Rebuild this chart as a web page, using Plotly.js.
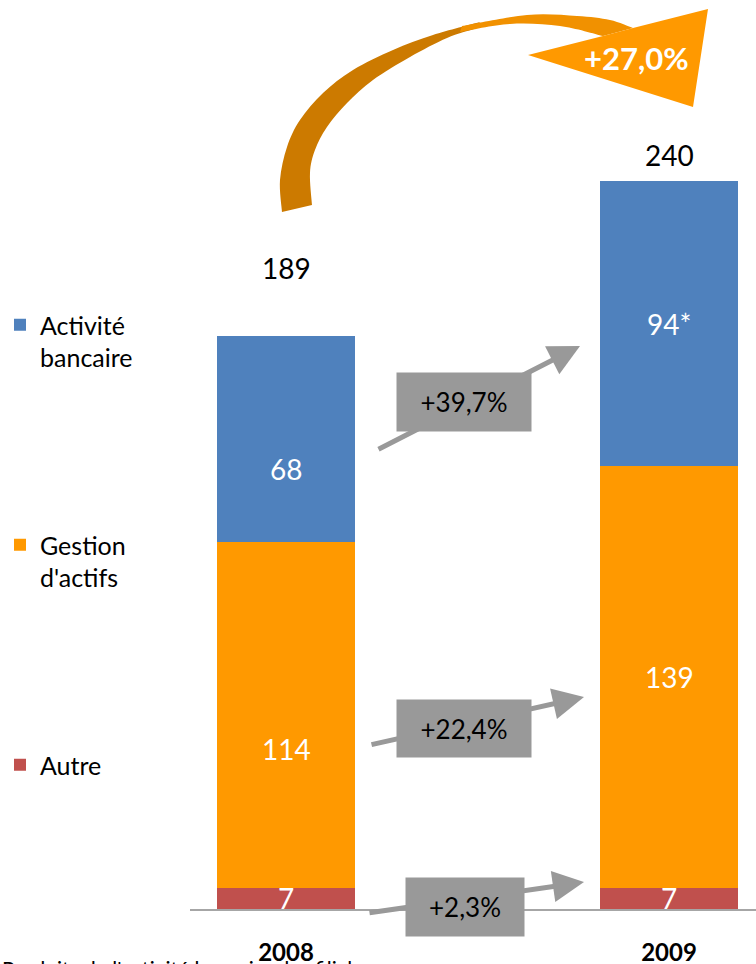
<!DOCTYPE html>
<html>
<head>
<meta charset="utf-8">
<script src="https://cdn.plot.ly/plotly-3.0.1.min.js"></script>
<style>html,body{margin:0;padding:0;background:#fff;}#chart{width:756px;height:964px;}</style>
</head>
<body>
<div id="chart"></div>
<script>
// ---- data ----
const years = ["2008", "2009"];
const autre = [7, 7];
const gestion = [114, 139];
const bancaire = [68, 94];
const bancaireLabels = ["68", "94*"];
const seriesNames = ["Autre", "Gestion<br>d'actifs", "Activité<br>bancaire"];
const growthLabels = ["+2,3%", "+22,4%", "+39,7%"];
const totalGrowth = "+27,0%";
const footnote = "Produits de l'activité bancaire des filiales";

const totals = years.map((_, i) => autre[i] + gestion[i] + bancaire[i]);

// ---- geometry helpers (pixel -> axis / paper) ----
const L = 190, W = 566, B = 909, H = 909;
const xr = [-0.2507, 1.2271];
const yr = [0, 299.8];
const dx = px => xr[0] + (px - L) / W * (xr[1] - xr[0]);
const dy = py => (B - py) / H * (yr[1] - yr[0]);
const fx = px => (px - L) / W;
const fy = py => (B - py) / H;
const P = p => fx(p[0]).toFixed(4) + "," + fy(p[1]).toFixed(4);
function path(pts) {
  return "M" + pts.map(P).join("L") + "Z";
}
// smooth (Catmull-Rom) edge
function smooth(pts) {
  let s = "";
  for (let i = 0; i < pts.length - 1; i++) {
    const p0 = pts[Math.max(i - 1, 0)], p1 = pts[i], p2 = pts[i + 1], p3 = pts[Math.min(i + 2, pts.length - 1)];
    const c1 = [p1[0] + (p2[0] - p0[0]) / 6, p1[1] + (p2[1] - p0[1]) / 6];
    const c2 = [p2[0] - (p3[0] - p1[0]) / 6, p2[1] - (p3[1] - p1[1]) / 6];
    s += "C" + P(c1) + " " + P(c2) + " " + P(p2);
  }
  return s;
}
function band(outer, inner) {
  return "M" + P(outer[0]) + smooth(outer) + "L" + P(inner[0]) + smooth(inner) + "Z";
}

const blue = "#4F81BD", orange = "#FF9900", red = "#C0504D", grey = "#999999";
const FONT = "Lato, 'Open Sans', sans-serif";

const traces = [
  {type: "bar", x: years, y: autre, name: seriesNames[0], marker: {color: red}, legendgroup: "a", legendrank: 3, hoverinfo: "none"},
  {type: "bar", x: years, y: gestion, name: seriesNames[1], marker: {color: orange}, legendgroup: "g", legendrank: 2, hoverinfo: "none"},
  {type: "bar", x: years, y: bancaire, name: seriesNames[2], marker: {color: blue}, legendgroup: "b", legendrank: 1, hoverinfo: "none"}
];

const annotations = [];
const C = {xanchor: "center", yanchor: "middle", showarrow: false};
// segment labels
const nudge = [-30, 0];
years.forEach((yv, i) => {
  annotations.push(Object.assign({x: i, y: autre[i] / 2, xref: "x", yref: "y", text: String(autre[i]),
    font: {family: FONT, size: 28, color: "#fff"}}, C));
  annotations.push(Object.assign({x: i, y: autre[i] + gestion[i] / 2, yshift: nudge[i] * 1.15, xref: "x", yref: "y", text: String(gestion[i]),
    font: {family: FONT, size: 28, color: "#fff"}}, C));
  annotations.push(Object.assign({x: i, y: autre[i] + gestion[i] + bancaire[i] / 2, yshift: nudge[i], xref: "x", yref: "y", text: bancaireLabels[i],
    font: {family: FONT, size: 28, color: "#fff"}}, C));
});
// totals
const totShift = [68, 26];
years.forEach((yv, i) => {
  annotations.push(Object.assign({x: i, y: totals[i], yshift: totShift[i], xref: "x", yref: "y", text: String(totals[i]),
    font: {family: FONT, size: 28, color: "#000"}}, C));
});
// growth arrows (tail px -> head px) and boxes
const arrows = [
  {t: [368, 913], h: [584, 882], box: [465, 907, 118, 58]},
  {t: [370, 745], h: [584, 697], box: [464, 728, 134, 57]},
  {t: [377, 450], h: [580, 346], box: [464, 402, 134, 58]}
];
arrows.forEach((a, k) => {
  annotations.push({x: dx(a.h[0]), y: dy(a.h[1]), ax: dx(a.t[0]), ay: dy(a.t[1]), xref: "x", yref: "y", axref: "x", ayref: "y",
    text: "", showarrow: true, arrowhead: 2, arrowsize: 1.25, arrowwidth: 5, arrowcolor: grey});
  annotations.push(Object.assign({x: dx(a.box[0]), y: dy(a.box[1]), xref: "x", yref: "y", text: growthLabels[k],
    bgcolor: grey, width: a.box[2], height: a.box[3], borderpad: 0,
    font: {family: FONT, size: 26, color: "#000"}}, C));
});
// total growth label
annotations.push(Object.assign({x: fx(636), y: fy(58), xref: "paper", yref: "paper", text: "<b>" + totalGrowth + "</b>",
  font: {family: FONT, size: 31, color: "#fff"}}, C));
// footnote
annotations.push({x: fx(0), y: fy(954), xref: "paper", yref: "paper", xanchor: "left", yanchor: "top", text: footnote, showarrow: false,
  font: {family: FONT, size: 21, color: "#000"}});

// curved arrow outline (decoration)
const darkOuter = [[282,212],[280,180],[287,147],[300,120],[323,93],[353,70],[393,50],[433,35],[480,22]];
const darkInner = [[474,29],[447,38],[410,57],[373,80],[347,103],[327,127],[315,150],[310,173],[312,205]];
const lightOuter = [[462,26],[527,15],[577,16],[610,20],[633,28]];
const lightInner = [[603,36],[560,26],[510,24],[460,32]];
const headPts = [[633,28],[708,9],[693,107],[528,55],[603,36]];

const shapes = [
  {type: "path", xref: "paper", yref: "paper", path: band(darkOuter, darkInner), fillcolor: "#CC7A00", line: {width: 0}, layer: "below"},
  {type: "path", xref: "paper", yref: "paper", path: band(lightOuter, lightInner), fillcolor: "#F19100", line: {width: 0}, layer: "below"},
  {type: "path", xref: "paper", yref: "paper", path: path(headPts), fillcolor: orange, line: {width: 0}, layer: "below"}
];

const layout = {
  width: 756, height: 964,
  margin: {l: L, r: 0, t: 0, b: 964 - B},
  paper_bgcolor: "#fff", plot_bgcolor: "rgba(0,0,0,0)",
  barmode: "stack", bargap: 0.64,
  showlegend: true,
  legend: {xref: "container", yref: "container", x: 0, y: 1 - 302 / 964, xanchor: "left", yanchor: "top",
    traceorder: "grouped", tracegroupgap: 152, valign: "top",
    font: {family: FONT, size: 25, color: "#000"}, bgcolor: "rgba(0,0,0,0)"},
  xaxis: {type: "category", range: xr, showline: true, linecolor: "#A6A6A6", linewidth: 2, ticks: "", showgrid: false,
    zeroline: false, ticklabelstandoff: 21, tickfont: {family: FONT, size: 24, color: "#000", weight: "bold"}},
  yaxis: {range: yr, visible: false, showgrid: false, zeroline: false},
  annotations: annotations,
  shapes: shapes,
  font: {family: FONT}
};

Plotly.newPlot("chart", traces, layout, {displayModeBar: false, staticPlot: true});
</script>
</body>
</html>
